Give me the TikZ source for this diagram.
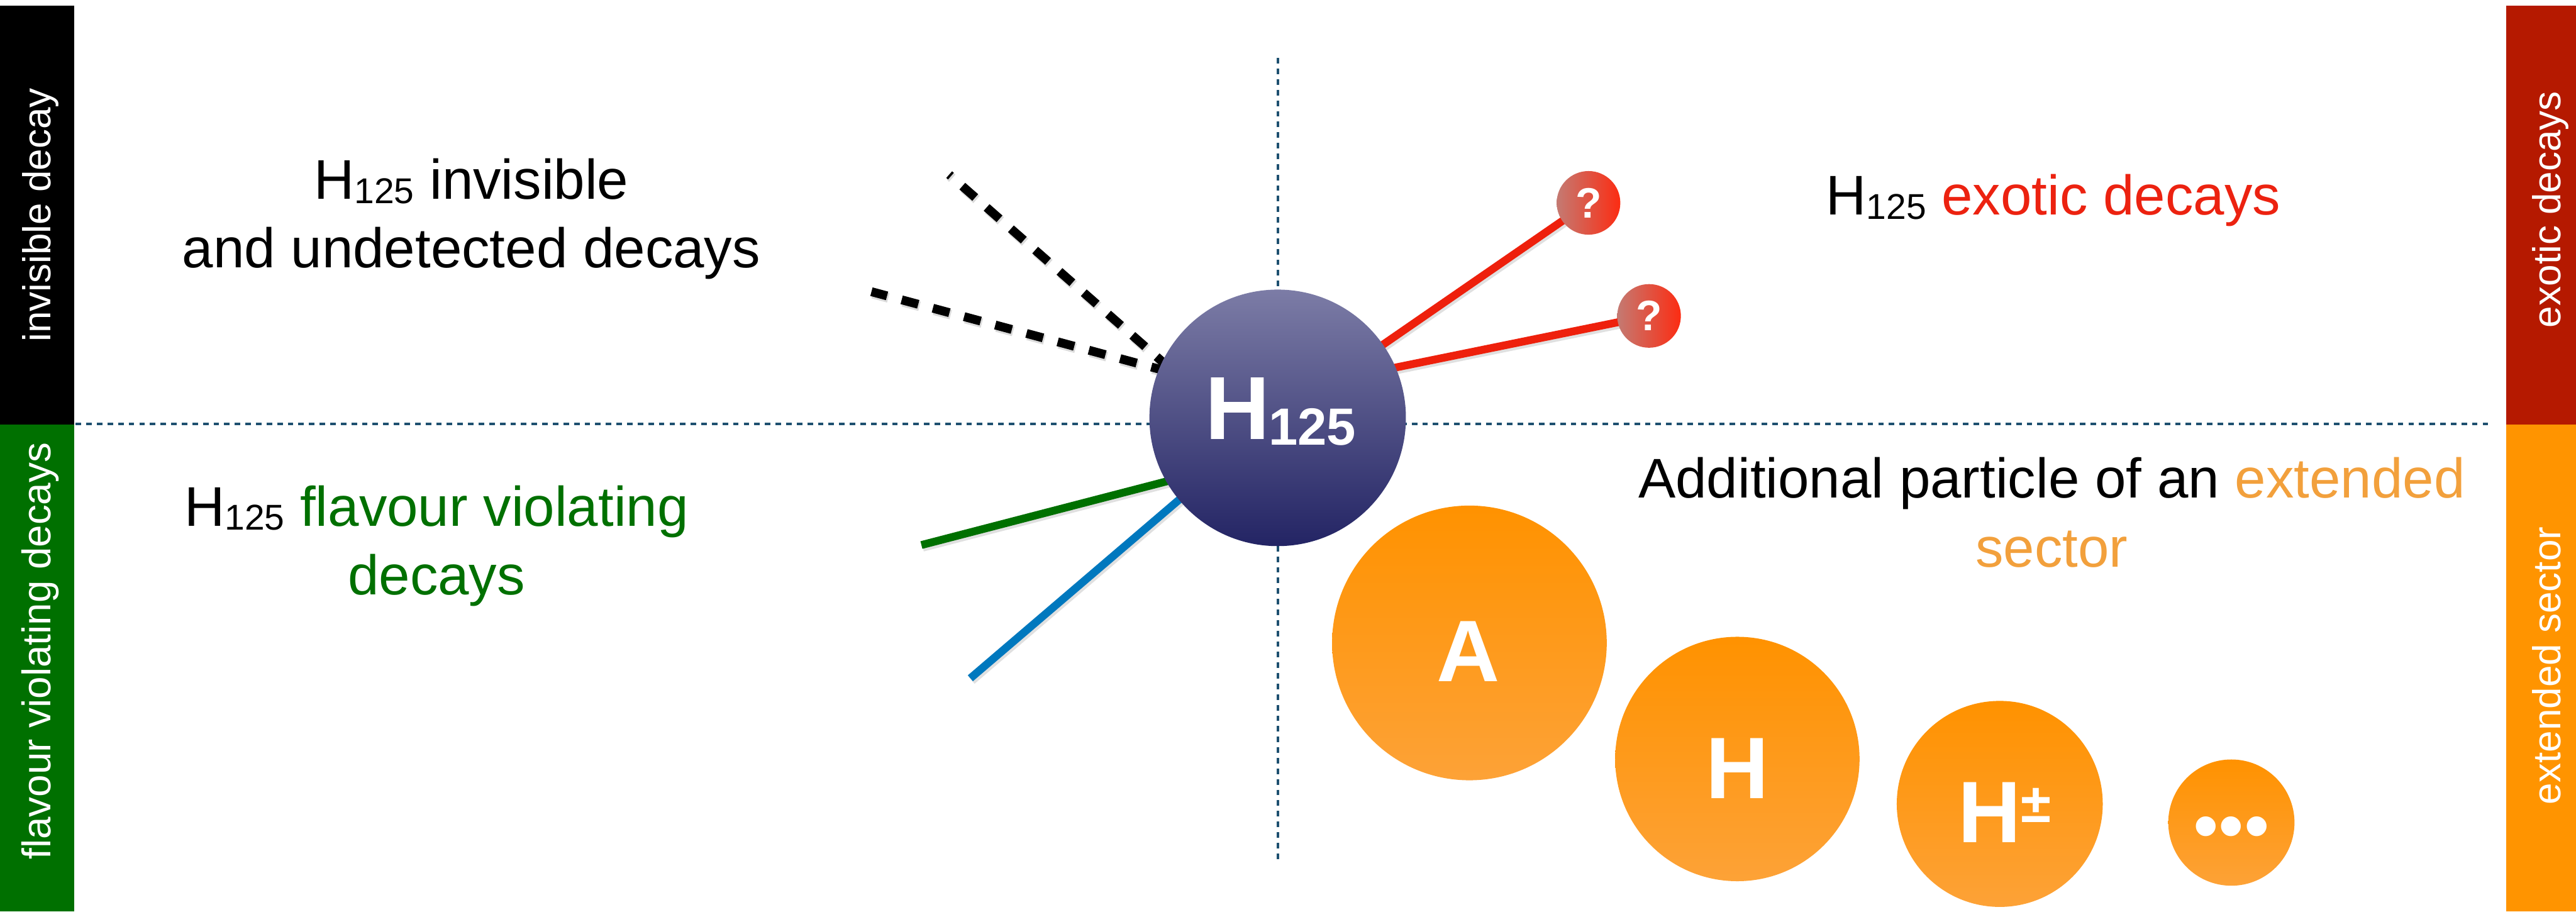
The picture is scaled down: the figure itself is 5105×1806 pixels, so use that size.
\documentclass[tikz,border=0pt]{standalone}
\usepackage{fontspec}
\setmainfont{Liberation Sans}

\definecolor{hTop}{RGB}{124,124,166}
\definecolor{hBot}{RGB}{35,36,100}
\definecolor{orTop}{RGB}{255,146,0}
\definecolor{orBot}{RGB}{253,162,55}
\definecolor{qLeft}{RGB}{196,122,114}
\definecolor{qRight}{RGB}{252,44,18}
\definecolor{sepBlue}{RGB}{30,80,112}
\definecolor{barGreen}{RGB}{0,112,0}
\definecolor{barRed}{RGB}{181,25,0}
\definecolor{barOrange}{RGB}{255,148,0}
\definecolor{exoRed}{RGB}{236,34,16}
\definecolor{flGreen}{RGB}{0,112,0}
\definecolor{extOrange}{RGB}{242,160,60}
\definecolor{decRed}{RGB}{238,32,12}
\definecolor{decBlue}{RGB}{0,120,190}

% H with a lowered 125 in the running text
\newcommand\Hsub{H{\fontsize{20.2pt}{21pt}\selectfont\raisebox{-0.08cm}{125}}}

\begin{document}
\begin{tikzpicture}[x=0.01cm, y=-0.01cm,
  sidelabel/.style={rotate=90, anchor=base, inner sep=0, text=white,
    font=\fontsize{22pt}{26pt}\selectfont},
  bodytext/.style={anchor=base, inner sep=0, font=\fontsize{31.5pt}{38pt}\selectfont},
  sepline/.style={sepBlue, line width=0.05cm, dash pattern=on 0.11cm off 0.10cm},
  softshadow/.style={preaction={draw=black, opacity=0.12, line width=0.18cm,
    transform canvas={xshift=0.025cm, yshift=-0.04cm}}},
  decayline/.style={line width=0.155cm, softshadow},
  dashshadow/.style={preaction={draw=black, opacity=0.14, line width=0.19cm,
    dash pattern=on 0.34cm off 0.30cm, dash phase=#1,
    transform canvas={xshift=0.025cm, yshift=-0.04cm}}},
  invline/.style={black, line width=0.175cm, dash pattern=on 0.34cm off 0.30cm,
    dash phase=#1, dashshadow=#1},
  particle/.style={circle, inner sep=0, top color=orTop, bottom color=orBot},
  qbubble/.style={circle, inner sep=0, minimum size=1.26cm, left color=qLeft, right color=qRight,
    text=white, font=\bfseries\fontsize{24pt}{24pt}\selectfont},
  plabel/.style={anchor=base, inner sep=0, text=white, font=\bfseries\fontsize{49.2pt}{50pt}\selectfont},
]
\useasboundingbox (0,0) rectangle (5105,1806);

% side bars
\fill[black] (0,11) rectangle (147,841);
\fill[barGreen] (0,841) rectangle (147,1806);
\fill[barRed] (4966,11) rectangle (5105,841);
\fill[barOrange] (4966,841) rectangle (5105,1806);
\node[sidelabel] (sideInv) at (100,426) {invisible decay};
\node[sidelabel, font=\fontsize{22.6pt}{26pt}\selectfont] (sideFlav) at (100,1290) {flavour violating decays};
\node[sidelabel] (sideExo) at (5075,415) {exotic decays};
\node[sidelabel] (sideExt) at (5075,1319) {extended sector};

% quadrant separators
\coordinate (hsepL) at (150,840);
\coordinate (hsepR) at (4932,840);
\coordinate (vsepT) at (2532,115);
\coordinate (vsepB) at (2532,1705);
\draw[sepline] (hsepL) -- (hsepR);
\draw[sepline] (vsepT) -- (vsepB);

% decay lines, drawn below the particles
\coordinate (d1in) at (2347,755);  \coordinate (d1out) at (1881,346);
\coordinate (d2in) at (2355,747);  \coordinate (d2out) at (1727,578);
\coordinate (r1in) at (2600,780);  \coordinate (q1c) at (3148,402);
\coordinate (r2in) at (2600,762);  \coordinate (q2c) at (3268,626);
\coordinate (gin) at (2400,931);   \coordinate (gout) at (1826,1080);
\coordinate (bin) at (2420,919);   \coordinate (bout) at (1923,1344);

\draw[invline=0.25cm] (d1in) -- (d1out);
\draw[invline=0.22cm] (d2in) -- (d2out);
\draw[decayline, decRed] (r1in) -- (q1c);
\draw[decayline, decRed] (r2in) -- (q2c);
\draw[decayline, flGreen] (gin) -- (gout);
\draw[decayline, decBlue] (bin) -- (bout);

% the 125 GeV Higgs
\node[circle, inner sep=0, minimum size=5.08cm, top color=hTop, bottom color=hBot] (H) at (2532,828) {};
\node[anchor=base, inner sep=0, text=white, font=\bfseries\fontsize{50.5pt}{51pt}\selectfont] (Hlabel) at (2538,870)
  {H\kern-0.03cm{\fontsize{29.5pt}{30pt}\selectfont\raisebox{-0.12cm}{125}}};

% unknown exotic states
\node[qbubble] (q1) at (q1c) {?};
\node[qbubble] (q2) at (q2c) {?};

% extended sector particles
\node[particle, minimum size=5.44cm] (pA) at (2912,1274) {};
\node[particle, minimum size=4.84cm] (pH) at (3443,1504) {};
\node[particle, minimum size=4.08cm] (pHc) at (3963,1593) {};
\node[particle, minimum size=2.5cm] (pDots) at (4422,1630) {};
\node[plabel] (lblA) at (2910,1351) {A};
\node[plabel] (lblH) at (3443,1582) {H};
\node[plabel] (lblHc) at (3973,1670) {H\raisebox{0.41cm}{\fontsize{31pt}{31pt}\selectfont ±}};
\node[anchor=base, inner sep=0, text=white, font=\fontsize{41pt}{41pt}\selectfont] (lblDots) at (4422,1686) {•••};

% quadrant captions
\node[bodytext] (inv1) at (934,395) {\Hsub{} invisible};
\node[bodytext] (inv2) at (934,530) {and undetected decays};
\node[bodytext] (exo) at (4069,426) {\Hsub{} \textcolor{exoRed}{exotic decays}};
\node[bodytext] (fl1) at (865,1042) {\Hsub{} \textcolor{flGreen}{flavour violating}};
\node[bodytext] (fl2) at (865,1178) {\textcolor{flGreen}{decays}};
\node[bodytext] (ad1) at (4066,986) {Additional particle of an \textcolor{extOrange}{extended}};
\node[bodytext] (ad2) at (4066,1124) {\textcolor{extOrange}{sector}};
\end{tikzpicture}
\end{document}
